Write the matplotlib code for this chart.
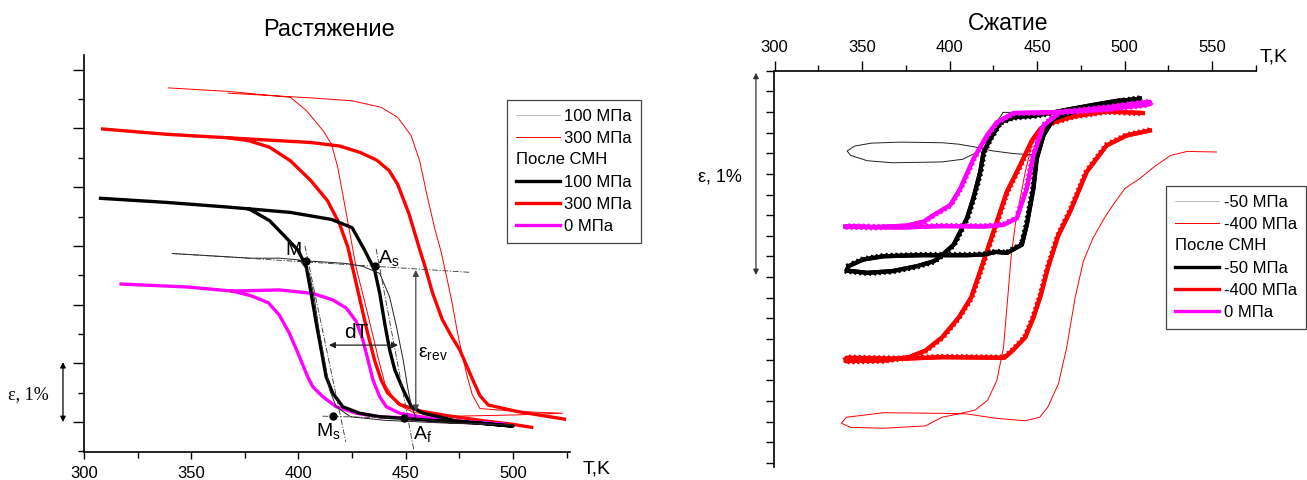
import matplotlib
matplotlib.use('Agg')
import matplotlib.pyplot as plt
import matplotlib.patheffects as pe
from matplotlib.legend_handler import HandlerBase
from matplotlib.lines import Line2D
from matplotlib.text import Text
from matplotlib.ticker import MultipleLocator, NullFormatter

plt.rcParams['font.family'] = ['Liberation Sans', 'DejaVu Sans']
plt.rcParams['mathtext.default'] = 'regular'

# ---------------- data: tension (left) ----------------
# thin lines - before SMN, thick - after SMN
t_thin100 = [341.1, 378.0, 391.1, 400.5, 405.1, 407.5, 409.8, 412.1, 414.5, 417.6, 424.3, 440, 470, 500,
             470, 455, 452.7, 451.1, 448.8, 445.7, 442.5, 437.9, 430.1, 422.3, 410, 400]
e_thin100 = [2.87, 2.79, 2.79, 2.76, 2.53, 2.08, 1.51, 1.06, 0.55, 0.26, 0.09, 0.03, -0.02, -0.05,
             -0.01, 0.06, 0.26, 0.55, 1.06, 1.62, 2.13, 2.53, 2.65, 2.70, 2.73, 2.75]

t_thin300 = [339.4, 367.3, 396.2, 403.8, 411.5, 415.4, 418.3, 421.2, 426.9, 430.8, 434.6, 437.5, 440.4,
             446.2, 453.8, 473.1, 500.0, 523.1,
             501.9, 484.6, 481.0, 478.5, 476.0, 474.0, 471.8, 469.5, 466.5, 463.5, 460.0, 456.5, 452.5,
             446.2, 438.5, 425.0, 405.8, 386.5, 367.3]
e_thin300 = [5.69, 5.63, 5.53, 5.30, 4.96, 4.73, 4.34, 3.77, 2.63, 2.06, 1.49, 1.04, 0.64,
             0.30, 0.16, 0.10, 0.12, 0.15,
             0.18, 0.23, 0.47, 0.80, 1.20, 1.55, 2.00, 2.40, 2.90, 3.30, 3.85, 4.45, 4.88,
             5.19, 5.36, 5.47, 5.52, 5.56, 5.60]

t_smn100 = [307.7, 338.5, 367.3, 376.9, 386.5, 394.2, 399.7, 403.6, 405.9, 408.3, 410.6, 412.9, 416.0,
            420.7, 428.5, 437.9, 461.2, 484.6, 500.0,
            473.1, 469.0, 458.1, 452.7, 448.8, 444.9, 442.5, 440.2, 437.9, 435.5, 430.8, 425.0, 415.4,
            396.2, 376.9]
e_smn100 = [3.81, 3.74, 3.66, 3.63, 3.43, 3.14, 2.93, 2.65, 2.19, 1.68, 1.23, 0.77, 0.49,
            0.26, 0.15, 0.09, 0.03, -0.02, -0.07,
            0.02, 0.06, 0.15, 0.26, 0.55, 0.89, 1.23, 1.68, 2.19, 2.59, 2.93, 3.31, 3.45,
            3.57, 3.63]

t_smn300_cool = [308.7, 338.5, 367.3, 376.9, 386.5, 396.2, 405.8, 413.5, 419.2, 423.1, 425.9, 428.8,
                 432.0, 435.5, 438.5, 441.5, 447.2, 456.5, 469.0, 484.6, 500.0, 508.7]
e_smn300_cool = [4.99, 4.90, 4.84, 4.79, 4.68, 4.45, 4.11, 3.77, 3.37, 2.97, 2.52, 2.06,
                 1.55, 1.05, 0.72, 0.50, 0.30, 0.19, 0.11, 0.03, -0.04, -0.09]
t_smn300_heat = [524.0, 501.9, 488.5, 484.6, 481.5, 478.5, 475.2, 471.5, 467.0, 462.5, 459.0, 456.0,
                 451.5, 446.2, 442.3, 436.5, 428.8, 419.2, 405.8, 386.5, 367.3]
e_smn300_heat = [0.05, 0.18, 0.29, 0.45, 0.70, 0.95, 1.23, 1.45, 1.75, 2.20, 2.65, 3.00,
                 3.55, 4.05, 4.28, 4.46, 4.59, 4.70, 4.76, 4.80, 4.84]

t_smn0 = [317.3, 348.1, 369.2, 378.0, 386.0, 391.1, 395.8, 400.5, 404.3, 406.7, 411.4, 417.6, 427.0,
          437.9, 450.5, 463.5, 480.0, 496.2,
          463.5, 447.2, 441.0, 437.9, 434.7, 432.4, 430.0, 427.0, 422.3, 416.0, 406.7, 391.1, 369.2]
e_smn0 = [2.35, 2.30, 2.23, 2.15, 2.03, 1.82, 1.51, 1.11, 0.77, 0.60, 0.43, 0.26, 0.15,
          0.09, 0.07, 0.02, -0.01, -0.04,
          0.05, 0.15, 0.26, 0.43, 0.72, 1.06, 1.40, 1.71, 1.94, 2.08, 2.19, 2.25, 2.23]

# construction lines and characteristic points
tang_top = ([341.1, 479.6], [2.87, 2.55])
tang_bot = ([411.2, 453.5], [0.10, 0.06])
tang_m = ([403.0, 422.1], [3.00, -0.34])
tang_a = ([436.2, 453.8], [2.95, -0.48])
pts_T = [403.7, 435.5, 416.0, 449.2]
pts_e = [2.75, 2.66, 0.10, 0.07]

# ---------------- data: compression (right) ----------------
c_thin50_t = [430.6, 444.3, 458.6, 456.9, 454.6, 452.2, 450.3, 445.5, 436.0, 424.2, 414.7, 405.2,
              395.7, 371.9, 355.3, 345.8, 341.5, 343.4, 352.9, 367.2, 395.7, 407.5, 415.9, 419.4,
              424.2, 430.6]
c_thin50_e = [0.798, 0.798, 0.801, 0.766, 0.686, 0.622, 0.596, 0.593, 0.599, 0.612, 0.630, 0.644,
              0.651, 0.654, 0.649, 0.635, 0.611, 0.590, 0.564, 0.554, 0.558, 0.571, 0.606, 0.654,
              0.718, 0.798]

c_thin400_t = [512.0, 490.6, 466.9, 457.4, 451.5, 447.4, 443.2, 439.6, 437.5, 435.1, 433.2, 430.8,
               427.0, 421.8, 414.7, 406.4, 395.7, 386.2, 362.4, 343.4, 338.2, 341.1, 362.4, 395.7,
               409.9, 426.5, 443.2, 451.5, 456.2, 462.2, 466.9, 471.7, 476.4, 481.9, 488.3, 493.3,
               500.1, 508.7, 516.8, 526.3, 535.8, 552.4]
c_thin400_e = [0.827, 0.811, 0.785, 0.758, 0.710, 0.654, 0.510, 0.349, 0.253, 0.093, -0.099, -0.340,
               -0.500, -0.596, -0.644, -0.660, -0.679, -0.721, -0.732, -0.728, -0.708, -0.679, -0.657,
               -0.660, -0.663, -0.684, -0.696, -0.679, -0.628, -0.516, -0.340, -0.099, 0.077, 0.189,
               0.285, 0.349, 0.429, 0.478, 0.534, 0.590, 0.609, 0.606]

c_smn50_t = [508.7, 495.4, 481.1, 466.9, 457.4, 447.9, 436.3, 429.0, 423.2, 419.4, 417.5, 413.5,
             409.9, 405.2, 402.3, 395.7, 391.0, 381.4, 367.2, 352.9, 341.1,
             342.3, 350.6, 362.4, 383.8, 409.9, 419.4, 426.5, 432.7, 441.3, 444.1, 447.9, 449.8,
             453.6, 459.3, 466.9, 481.1, 495.4, 508.7]
c_smn50_e = [0.862, 0.854, 0.833, 0.811, 0.795, 0.782, 0.774, 0.750, 0.670, 0.606, 0.510, 0.381,
             0.285, 0.205, 0.157, 0.106, 0.077, 0.053, 0.029, 0.021, 0.032,
             0.053, 0.085, 0.101, 0.106, 0.106, 0.109, 0.122, 0.117, 0.157, 0.253, 0.429, 0.574,
             0.686, 0.766, 0.790, 0.822, 0.849, 0.865]

c_smn400_t = [510.4, 489.7, 470.7, 459.3, 452.0, 447.0, 440.3, 432.7, 425.1, 417.5, 412.3, 405.2,
              395.7, 386.2, 376.7, 362.4, 340.6,
              341.1, 371.9, 395.7, 431.3, 436.0, 443.2, 447.9, 452.0, 456.0, 462.0, 468.8, 478.3,
              489.7, 501.1, 514.4]
c_smn400_e = [0.795, 0.803, 0.779, 0.750, 0.720, 0.662, 0.542, 0.413, 0.221, 0.029, -0.099, -0.196,
              -0.292, -0.356, -0.388, -0.404, -0.407,
              -0.391, -0.396, -0.388, -0.391, -0.356, -0.292, -0.196, -0.090, 0.040, 0.200, 0.317, 0.510,
              0.638, 0.686, 0.710]

c_smn0_t = [340.6, 371.9, 395.7, 419.4, 430.8, 438.4, 444.1, 447.9, 453.6, 463.1, 490.6, 514.4,
            514.4, 490.6, 466.9, 451.7, 436.5, 427.0, 421.3, 413.7, 406.1, 400.4, 390.9, 385.2,
            375.7, 357.7, 340.6]
c_smn0_e = [0.245, 0.240, 0.247, 0.245, 0.253, 0.285, 0.429, 0.590, 0.734, 0.798, 0.822, 0.849,
            0.838, 0.814, 0.801, 0.798, 0.795, 0.750, 0.686, 0.574, 0.429, 0.349, 0.301, 0.269,
            0.250, 0.242, 0.245]

W, H = 1307, 480
fig = plt.figure(figsize=(W / 100, H / 100), dpi=100)


def px_axes(x0, y0, x1, y1):
    return fig.add_axes([x0 / W, 1 - y1 / H, (x1 - x0) / W, (y1 - y0) / H])


class Header:
    def __init__(self, text):
        self.text = text


class HeaderHandler(HandlerBase):
    def create_artists(self, legend, orig_handle, xdescent, ydescent, width, height, fontsize, trans):
        t = Text(-xdescent, height / 2 - ydescent, orig_handle.text, fontsize=fontsize,
                 va='center', ha='left', transform=trans)
        return [t]


THIN = 0.7
THICK = 2.4
RED = '#ff0000'
MAG = '#ff00ff'
LEG_FS = 12

# ================= left: tension =================
ax1 = px_axes(84, 55, 570, 452)
ax1.set_xlim(300, 526.6)
ax1.set_ylim(-0.51, 6.25)
for s in ['top', 'right']:
    ax1.spines[s].set_visible(False)
for s in ['left', 'bottom']:
    ax1.spines[s].set_linewidth(1.2)
ax1.xaxis.set_major_locator(MultipleLocator(50))
ax1.xaxis.set_minor_locator(MultipleLocator(25))
ax1.yaxis.set_major_locator(MultipleLocator(1))
ax1.yaxis.set_minor_locator(MultipleLocator(0.5))
ax1.yaxis.set_major_formatter(NullFormatter())
ax1.tick_params(axis='x', which='major', length=5, width=1, labelsize=12, pad=5)
ax1.tick_params(axis='x', which='minor', length=4, width=1)
ax1.tick_params(axis='y', which='major', length=8, width=1)
ax1.tick_params(axis='y', which='minor', length=4, width=1)

ax1.plot(t_thin300, e_thin300, color=RED, lw=THIN)
ax1.plot(t_smn300_cool, e_smn300_cool, color=RED, lw=THICK)
ax1.plot(t_smn300_heat, e_smn300_heat, color=RED, lw=THICK)
ax1.plot(t_smn0, e_smn0, color=MAG, lw=THICK)
ax1.plot(t_smn100, e_smn100, color='k', lw=THICK)
ax1.plot(t_thin100, e_thin100, color='#222222', lw=THIN)

dd = (0, (7, 2, 1.5, 2))
for tx, ty in [tang_top, tang_bot, tang_m, tang_a]:
    ax1.plot(tx, ty, color='#333333', lw=0.6, linestyle=dd)
ax1.plot(pts_T, pts_e, 'o', color='k', ms=5)

ax1.annotate('', xy=(414.2, 1.31), xytext=(446.4, 1.31),
             arrowprops=dict(arrowstyle='<|-|>', color='#222222', lw=0.9, mutation_scale=9,
                             shrinkA=0, shrinkB=0))
ax1.annotate('', xy=(454.7, 2.59), xytext=(454.7, 0.18),
             arrowprops=dict(arrowstyle='<|-|>', color='#444444', lw=0.9, mutation_scale=9,
                             shrinkA=0, shrinkB=0))
ax1.text(427.0, 1.36, 'dT', fontsize=15, ha='center', va='bottom')
ax1.text(455.6, 1.17, r'$\varepsilon_{rev}$', fontsize=14, ha='left', va='center')
ax1.text(394.0, 2.78, 'M', fontsize=14, ha='left', va='bottom')
ax1.text(437.3, 2.62, r'A$_s$', fontsize=14, ha='left', va='bottom')
ax1.text(408.3, 0.02, r'M$_s$', fontsize=14, ha='left', va='top')
ax1.text(453.5, -0.04, r'A$_f$', fontsize=14, ha='left', va='top')

# scale bar
ax1.annotate('', xy=(290.2, 1.02), xytext=(290.2, 0.0),
             arrowprops=dict(arrowstyle='<|-|>', color='k', lw=0.9, mutation_scale=8,
                             shrinkA=0, shrinkB=0), annotation_clip=False)
ax1.text(274.0, 0.46, 'ε, 1%', fontsize=13, family=['Liberation Serif', 'DejaVu Serif'],
         ha='center', va='center')

fig.text(329 / W, 1 - 30 / H, 'Растяжение', fontsize=17, ha='center', va='center')
fig.text(597 / W, 1 - 469 / H, 'T,K', fontsize=14, ha='center', va='center')

h1 = [Line2D([], [], color='#bbbbbb', lw=THIN), Line2D([], [], color=RED, lw=THIN),
      Header('После СМН'),
      Line2D([], [], color='k', lw=THICK), Line2D([], [], color=RED, lw=THICK),
      Line2D([], [], color=MAG, lw=THICK)]
l1 = ['100 МПа', '300 МПа', '', '100 МПа', '300 МПа', '0 МПа']
leg1 = ax1.legend(h1, l1, handler_map={Header: HeaderHandler()}, loc='upper left',
                  bbox_to_anchor=(507 / W, 1 - 100 / H), bbox_transform=fig.transFigure,
                  fancybox=False, edgecolor='#444444', framealpha=1, fontsize=LEG_FS,
                  handlelength=2.6, handletextpad=0.3, labelspacing=0.42, borderpad=0.55,
                  borderaxespad=0)
leg1.get_frame().set_linewidth(0.9)

# ================= right: compression =================
ax2 = px_axes(774.5, 70.7, 1256, 467)
ax2.set_xlim(300, 575)
ax2.set_ylim(-0.92, 1.0)
for s in ['bottom', 'right']:
    ax2.spines[s].set_visible(False)
for s in ['left', 'top']:
    ax2.spines[s].set_linewidth(1.2)
ax2.xaxis.tick_top()
ax2.xaxis.set_major_locator(MultipleLocator(50))
ax2.xaxis.set_minor_locator(MultipleLocator(25))
ax2.yaxis.set_major_locator(MultipleLocator(0.1))
ax2.yaxis.set_major_formatter(NullFormatter())
ax2.tick_params(axis='x', which='major', length=7, width=1, labelsize=12, pad=4)
ax2.tick_params(axis='x', which='minor', length=4, width=1)
ax2.tick_params(axis='y', which='major', length=6, width=1)

wavy = [pe.Stroke(), pe.withTickedStroke(spacing=3.5, angle=60, length=0.5, linewidth=1.6)]
ax2.plot(c_thin50_t, c_thin50_e, color='#222222', lw=THIN)
ax2.plot(c_thin400_t, c_thin400_e, color=RED, lw=THIN)
ax2.plot(c_smn400_t, c_smn400_e, color=RED, lw=3.0, path_effects=wavy)
ax2.plot(c_smn50_t, c_smn50_e, color='k', lw=3.0, path_effects=wavy)
ax2.plot(c_smn0_t, c_smn0_e, color=MAG, lw=3.0, path_effects=wavy)

ax2.annotate('', xy=(289.4, 0.99), xytext=(289.4, 0.01),
             arrowprops=dict(arrowstyle='<|-|>', color='#333333', lw=0.9, mutation_scale=8,
                             shrinkA=0, shrinkB=0), annotation_clip=False)
ax2.text(268.9, 0.486, 'ε, 1%', fontsize=13, ha='center', va='center')

fig.text(1008 / W, 1 - 23 / H, 'Сжатие', fontsize=16.5, ha='center', va='center')
fig.text(1274 / W, 1 - 57 / H, 'T,K', fontsize=14, ha='center', va='center')

h2 = [Line2D([], [], color='#bbbbbb', lw=THIN), Line2D([], [], color=RED, lw=THIN),
      Header('После СМН'),
      Line2D([], [], color='k', lw=THICK), Line2D([], [], color=RED, lw=THICK),
      Line2D([], [], color=MAG, lw=THICK)]
l2 = ['-50 МПа', '-400 МПа', '', '-50 МПа', '-400 МПа', '0 МПа']
leg2 = ax2.legend(h2, l2, handler_map={Header: HeaderHandler()}, loc='upper left',
                  bbox_to_anchor=(1166 / W, 1 - 186 / H), bbox_transform=fig.transFigure,
                  fancybox=False, edgecolor='#444444', framealpha=1, fontsize=LEG_FS,
                  handlelength=2.6, handletextpad=0.3, labelspacing=0.42, borderpad=0.55,
                  borderaxespad=0)
leg2.get_frame().set_linewidth(0.9)

fig.savefig('out.png', dpi=100)
